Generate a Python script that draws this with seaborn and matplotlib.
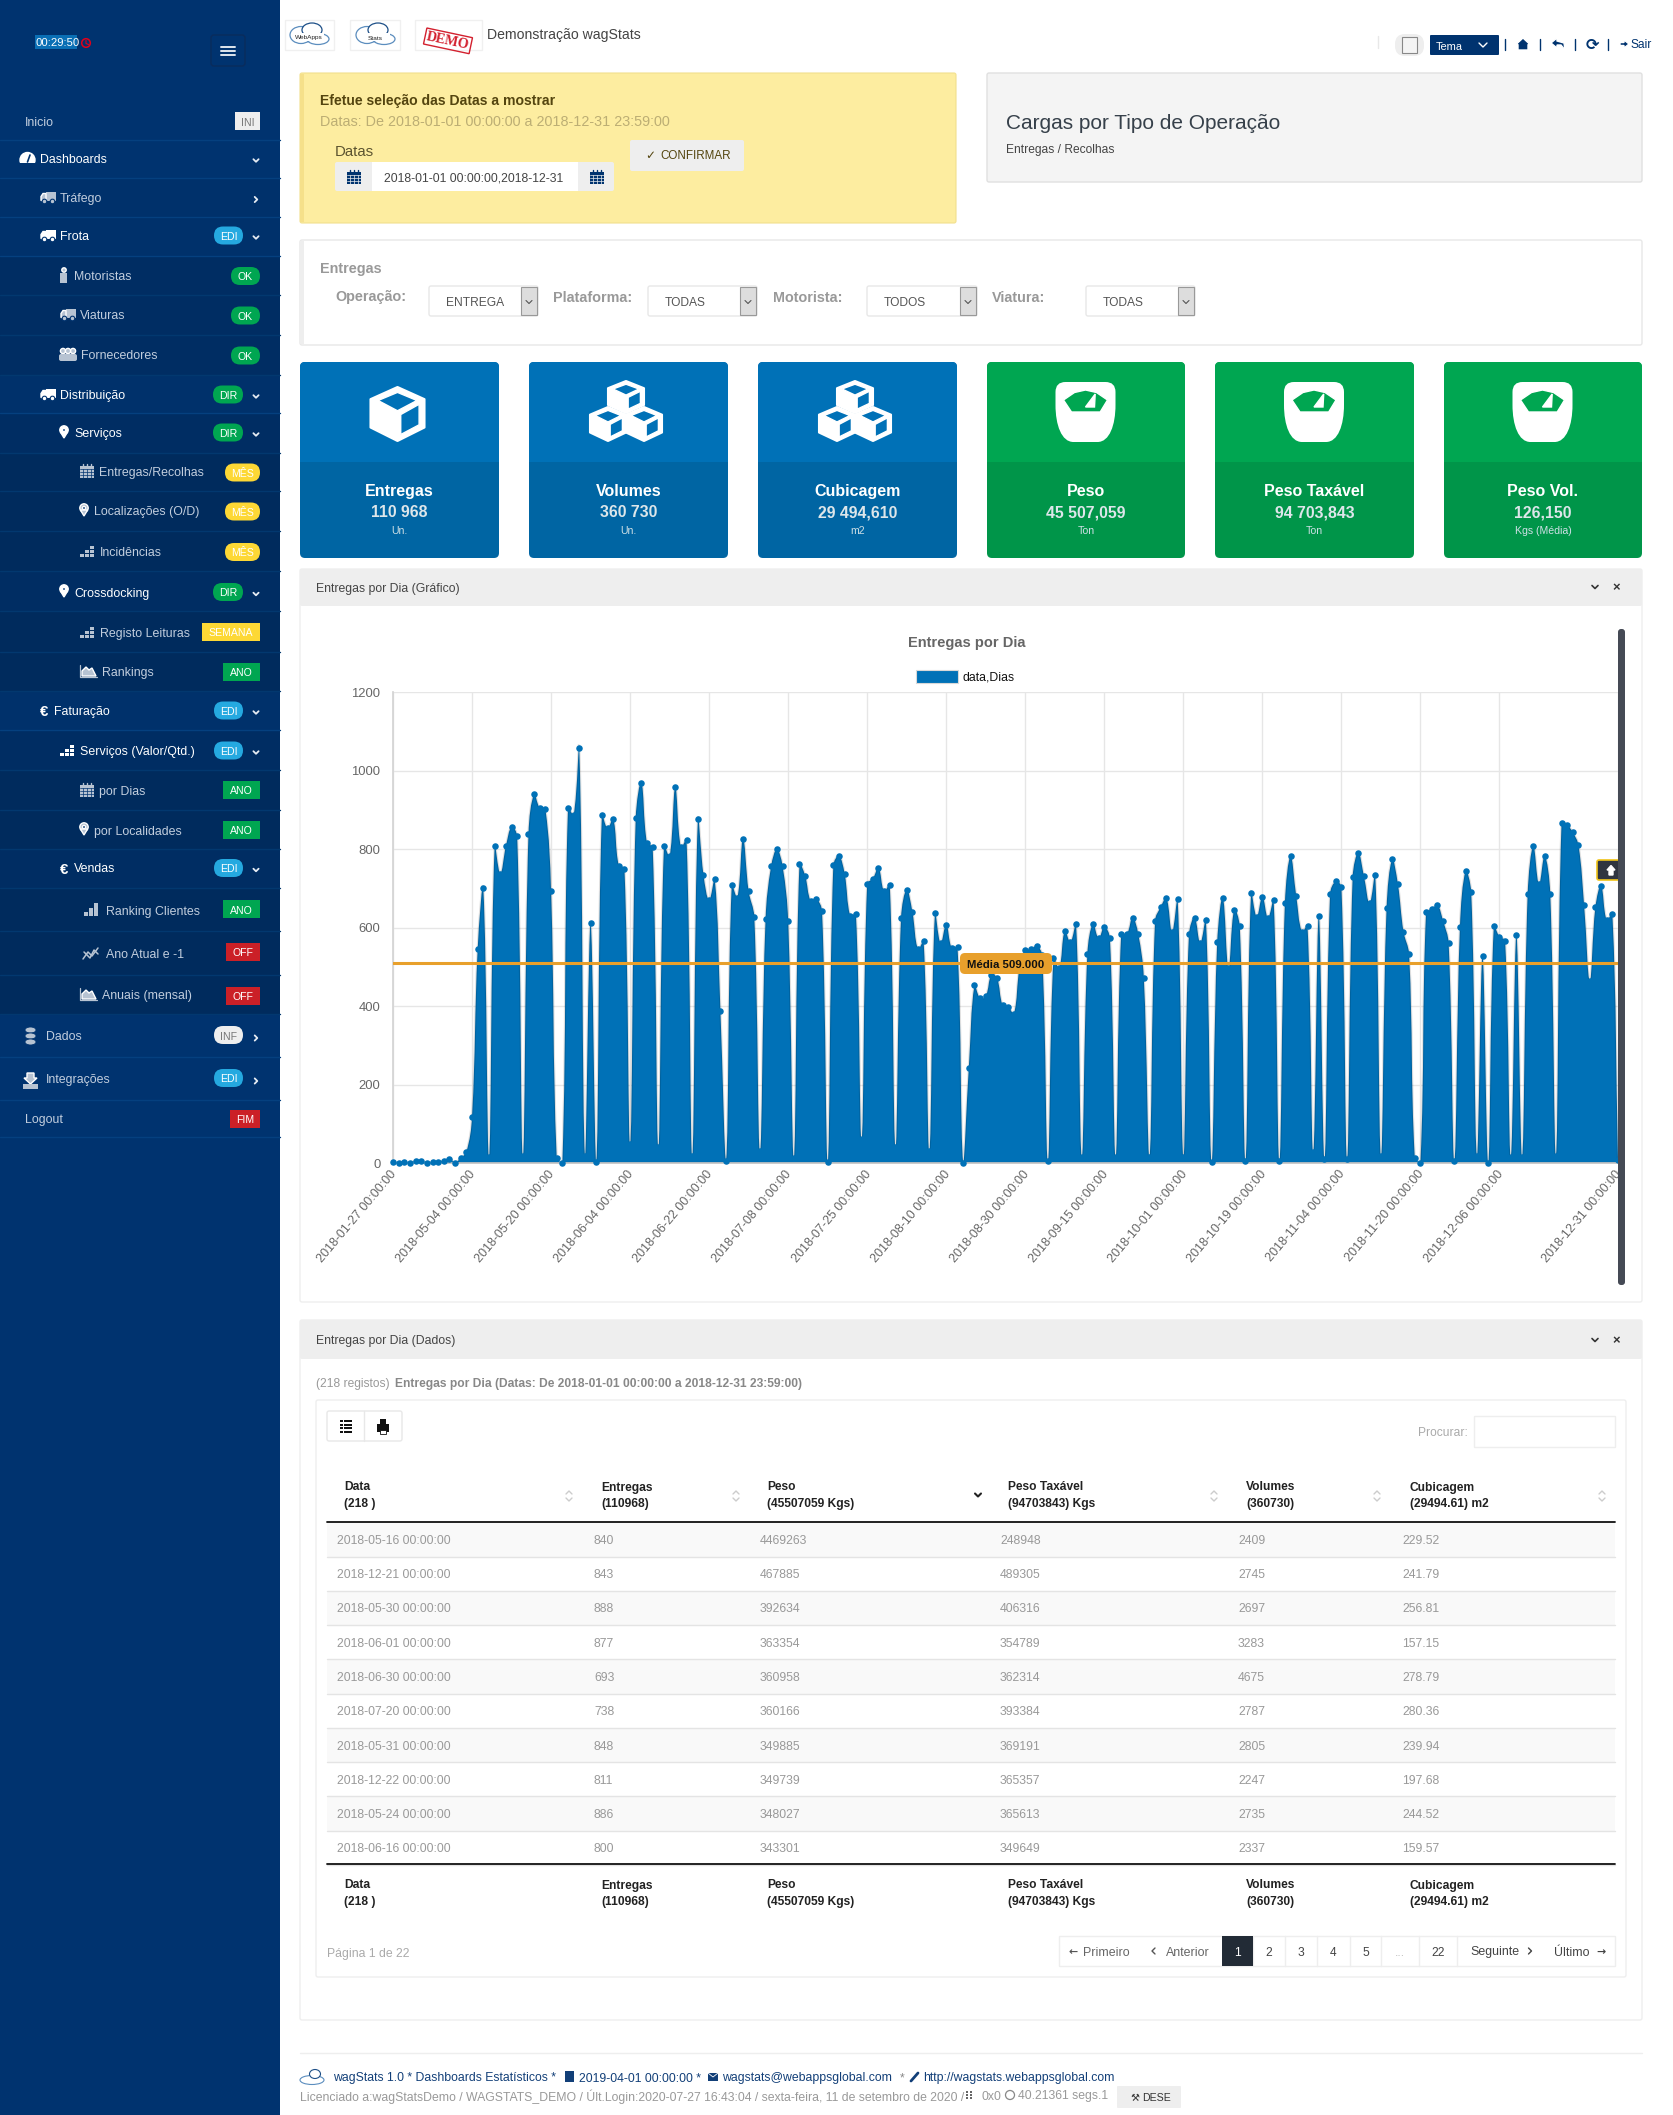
import numpy as np
import pandas as pd
import seaborn as sns
import matplotlib
matplotlib.use("Agg")
import matplotlib.pyplot as plt
from matplotlib.path import Path
from matplotlib.patches import PathPatch, FancyBboxPatch, Rectangle, Circle, Polygon, Ellipse
from matplotlib.transforms import ScaledTranslation

# chart values
entregas = [2, 1, 2, 1, 5, 6, 1, 2, 3, 6, 11, 1, 13, 28, 118, 546, 700, 15, 808, 738,
            808, 857, 833, 17, 840, 941, 905, 902, 693, 13, 0, 905, 888, 1057, 17, 611, 2, 888, 853, 878,
            758, 750, 48, 881, 970, 815, 806, 40, 808, 782, 958, 805, 824, 17, 876, 735, 670, 723, 388, 5,
            708, 677, 827, 693, 628, 30, 623, 758, 800, 758, 617, 12, 762, 733, 668, 673, 642, 2, 759, 783,
            738, 630, 635, 60, 712, 725, 753, 693, 710, 40, 626, 697, 641, 545, 565, 30, 638, 560, 608, 547,
            551, 0, 243, 453, 420, 425, 480, 472, 402, 397, 381, 500, 542, 545, 553, 530, 5, 523, 496, 592,
            563, 610, 16, 533, 610, 573, 602, 573, 16, 585, 584, 626, 585, 473, 16, 618, 653, 676, 589, 672,
            16, 583, 626, 561, 620, 3, 563, 677, 496, 646, 604, 5, 689, 628, 679, 625, 670, 5, 664, 782,
            681, 590, 604, 27, 631, 9, 686, 718, 703, 11, 730, 791, 731, 662, 735, 18, 649, 774, 712, 590,
            532, 14, 1, 639, 647, 658, 618, 560, 5, 602, 744, 691, 19, 528, 0, 604, 577, 567, 16, 581,
            16, 687, 808, 711, 783, 687, 19, 868, 862, 843, 810, 657, 465, 653, 707, 619, 636, 7]
media = 509
tick_pos = [0, 14, 28, 42, 56, 70, 84, 98, 112, 126, 140, 154, 168, 182, 196, 217]
tick_lab = ["2018-01-27 00:00:00", "2018-05-04 00:00:00", "2018-05-20 00:00:00", "2018-06-04 00:00:00",
            "2018-06-22 00:00:00", "2018-07-08 00:00:00", "2018-07-25 00:00:00", "2018-08-10 00:00:00",
            "2018-08-30 00:00:00", "2018-09-15 00:00:00", "2018-10-01 00:00:00", "2018-10-19 00:00:00",
            "2018-11-04 00:00:00", "2018-11-20 00:00:00", "2018-12-06 00:00:00", "2018-12-31 00:00:00"]

# table
col_titles = ["Data", "Entregas", "Peso", "Peso Taxável", "Volumes", "Cubicagem"]
col_totals = ["(218 )", "(110968)", "(45507059 Kgs)", "(94703843) Kgs", "(360730)", "(29494.61) m2"]
t_data = ["2018-05-16 00:00:00", "2018-12-21 00:00:00", "2018-05-30 00:00:00", "2018-06-01 00:00:00",
          "2018-06-30 00:00:00", "2018-07-20 00:00:00", "2018-05-31 00:00:00", "2018-12-22 00:00:00",
          "2018-05-24 00:00:00", "2018-06-16 00:00:00"]
t_entregas = [840, 843, 888, 877, 693, 738, 848, 811, 886, 800]
t_peso = [4469263, 467885, 392634, 363354, 360958, 360166, 349885, 349739, 348027, 343301]
t_taxavel = [248948, 489305, 406316, 354789, 362314, 393384, 369191, 365357, 365613, 349649]
t_volumes = [2409, 2745, 2697, 3283, 4675, 2787, 2805, 2247, 2735, 2337]
t_cubicagem = ["229.52", "241.79", "256.81", "157.15", "278.79", "280.36", "239.94", "197.68", "244.52", "159.57"]

# cards
kpi_titles = ["Entregas", "Volumes", "Cubicagem", "Peso", "Peso Taxável", "Peso Vol."]
kpi_values = ["110 968", "360 730", "29 494,610", "45 507,059", "94 703,843", "126,150"]
kpi_units = ["Un.", "Un.", "m2", "Ton", "Ton", "Kgs (Média)"]

# side menu
menu_labels = ["Inicio", "Dashboards", "Tráfego", "Frota", "Motoristas", "Viaturas", "Fornecedores",
               "Distribuição", "Serviços", "Entregas/Recolhas", "Localizações (O/D)", "Incidências",
               "Crossdocking", "Registo Leituras", "Rankings", "Faturação", "Serviços (Valor/Qtd.)",
               "por Dias", "por Localidades", "Vendas", "Ranking Clientes", "Ano Atual e -1",
               "Anuais (mensal)", "Dados", "Integrações", "Logout"]
menu_badges = ["INI", None, None, "EDI", "OK", "OK", "OK", "DIR", "DIR", "MÊS", "MÊS", "MÊS", "DIR",
               "SEMANA", "ANO", "EDI", "EDI", "ANO", "ANO", "EDI", "ANO", "OFF", "OFF", "INF", "EDI", "FIM"]

BLUE = "#0071b7"
NAVY = "#00336f"

sns.set_theme(style="white")
plt.rcParams["font.family"] = ["Liberation Sans", "DejaVu Sans"]

W, H = 1673, 2115
fig = plt.figure(figsize=(W / 100, H / 100), dpi=100, facecolor="white")
pg = fig.add_axes([0, 0, 1, 1], zorder=1)
pg.set_xlim(0, W)
pg.set_ylim(H, 0)
pg.axis("off")


def txt(x, y, s, px=12.4, c="#333333", w="normal", ha="left", a=None, **kw):
    a = a or pg
    return a.text(x, y, s, fontsize=px * 0.72, color=c, fontweight=w, ha=ha, va="center_baseline", **kw)


def box(x0, y0, x1, y1, fc, ec="none", lw=0.8, r=0, a=None, z=2):
    a = a or pg
    if r:
        p = FancyBboxPatch((x0 + r, y0 + r), x1 - x0 - 2 * r, y1 - y0 - 2 * r, boxstyle=f"round,pad={r},rounding_size={r}",
                           fc=fc, ec=ec, lw=lw, zorder=z)
    else:
        p = Rectangle((x0, y0), x1 - x0, y1 - y0, fc=fc, ec=ec, lw=lw, zorder=z)
    a.add_patch(p)


def chev(x, y, c, down=True, s=3.0, lw=1.3, a=None):
    a = a or pg
    if down:
        a.plot([x - s, x, x + s], [y - s / 2, y + s / 2, y - s / 2], color=c, lw=lw, zorder=5)
    else:
        a.plot([x - s / 2, x + s / 2, x - s / 2], [y - s, y, y + s], color=c, lw=lw, zorder=5)


def truck(x, y, c, bg):
    box(x + 5, y - 6, x + 15, y + 3, c, z=4)
    pg.add_patch(Polygon([(x, y + 3), (x, y - 1), (x + 2, y - 4), (x + 5, y - 4), (x + 5, y + 3)], fc=c, zorder=4))
    for cx in (x + 3.5, x + 11.5):
        pg.add_patch(Circle((cx, y + 4), 2.3, fc=c, ec=bg, lw=0.8, zorder=5))


def pin(x, y, c, bg):
    pg.add_patch(Circle((x, y - 2), 4.2, fc=c, zorder=4))
    pg.add_patch(Polygon([(x - 3.6, y), (x + 3.6, y), (x, y + 6)], fc=c, zorder=4))
    pg.add_patch(Circle((x, y - 2), 1.6, fc=bg, zorder=5))


def calendar(x, y, c, bg):
    box(x, y - 5, x + 14, y + 7, c, z=4)
    for v in (x + 3, x + 7, x + 11):
        pg.plot([v, v], [y - 7, y - 4], color=c, lw=1, zorder=5)
        pg.plot([v, v], [y - 2, y + 7], color=bg, lw=0.5, zorder=5)
    for h in (y - 2, y + 1, y + 4):
        pg.plot([x, x + 14], [h, h], color=bg, lw=0.5, zorder=5)


def blocks(x, y, c):
    for i, (cols, h) in enumerate([((2,), y - 5), ((1, 2), y - 1), ((0, 1, 2), y + 3)]):
        for k in cols:
            box(x + k * 5, h, x + k * 5 + 4, h + 3, c, z=4)


def areaicon(x, y, c):
    pg.plot([x, x, x + 17], [y - 6, y + 6, y + 6], color=c, lw=0.9, zorder=4)
    pg.add_patch(Polygon([(x + 2, y + 5), (x + 2, y), (x + 6, y - 4), (x + 9, y - 1), (x + 12, y - 3), (x + 16, y + 5)], fc=c, zorder=4))


def cloud(cx, cy, name):
    pg.add_patch(Ellipse((cx - 8, cy - 1), 22, 17, fc="none", ec="#5b8dbe", lw=0.9, zorder=3))
    pg.add_patch(Ellipse((cx + 9, cy + 3), 22, 11, fc="none", ec="#5b8dbe", lw=0.9, zorder=3))
    pg.add_patch(Ellipse((cx + 3, cy - 6), 20, 14, fc="white", ec="#1d4f87", lw=0.9, zorder=3))
    box(cx - 13, cy - 3, cx + 15, cy + 5, "white", z=3.5)
    txt(cx, cy + 1.5, name, 6.5, "#222222", ha="center", zorder=4)


# sidebar
box(0, 0, 280, H, NAVY, z=1)
box(35, 35, 77, 49, "#0a6fb5", z=2)
txt(36, 42.5, "00:29:50", 11.2, "white")
pg.add_patch(Circle((86, 43), 4.3, fc="none", ec="#e2001a", lw=1.1, zorder=3))
pg.plot([86, 86, 88.5], [40.5, 43.5, 44.5], color="#e2001a", lw=0.8, zorder=3)
box(211, 35, 245, 66, "none", ec="#0a2c5c", lw=1, r=3)
for yy in (47, 51, 55):
    pg.plot([221, 235], [yy, yy], color="#dfe6ee", lw=1.4, zorder=3)

menu_y = [121, 158.5, 197.5, 235.5, 275, 314.5, 354.5, 394.5, 432.5, 471.5, 510.5, 551, 592, 632, 671.6,
          710.5, 750.5, 790, 830, 868, 911, 953.5, 994.5, 1036, 1079, 1118.5]
menu_edge = [140, 178, 217, 256, 295, 335, 375, 413, 453, 491, 531, 571, 611, 652, 691, 730, 770, 810, 849,
             888, 931, 975, 1014, 1057, 1100, 1137]
menu_x = [25, 40, 60, 60, 74, 80, 81, 60, 74, 99, 94, 100, 74, 100, 102, 54, 80, 99, 94, 74, 106, 106, 102, 46, 46, 25]
menu_depth = [0, 0, 1, 1, 2, 2, 2, 1, 2, 3, 3, 3, 2, 3, 3, 1, 2, 3, 3, 2, 3, 3, 3, 0, 0, 0]
menu_white = [1, 3, 12, 7, 8, 15, 16, 19]
depth_bg = ["#00336f", "#00316b", "#002d63", "#002b5d"]
badge_col = {"INI": "#eeeeee", "EDI": "#25a9e0", "OK": "#00a651", "DIR": "#00a651", "MÊS": "#fdd835",
             "SEMANA": "#fdd835", "ANO": "#00a651", "OFF": "#cb2027", "INF": "#eeeeee", "FIM": "#cb2027"}
badge_w = {"EDI": 29, "DIR": 30, "OK": 29, "MÊS": 35, "INF": 29, "INI": 25, "SEMANA": 58, "ANO": 37, "OFF": 34, "FIM": 30}
badge_dy = {4: 1, 5: 1, 6: 1, 9: 1, 10: 1, 11: 1, 20: -2, 21: -1.5, 22: 1.5, 24: -1, 23: -1}
pill = ("EDI", "DIR", "OK", "MÊS", "INF")
has_chev = {1: True, 2: False, 3: True, 7: True, 8: True, 12: True, 15: True, 16: True, 19: True, 23: False, 24: False}

prev = 100
for i, lab in enumerate(menu_labels):
    y, edge = menu_y[i], menu_edge[i]
    bg = depth_bg[menu_depth[i]]
    box(0, prev, 280, edge, bg, z=1)
    pg.plot([0, 280], [edge, edge], color="#05407f" if menu_depth[i] < 2 else "#02386f", lw=1, zorder=2)
    prev = edge
    col = "#ffffff" if i in menu_white else "#c2cede"
    txt(menu_x[i], y, lab, 12.4, col)
    b = menu_badges[i]
    if b:
        has = i in has_chev and b in ("EDI", "DIR", "INF")
        right = 243 if has else 260
        left = right - badge_w[b]
        by = y + badge_dy.get(i, 0)
        tc = "#777777" if b in ("INI", "INF") else "white"
        r = 9 if b in pill else 0
        box(left, by - 9, right, by + 9, badge_col[b], r=r, z=3)
        txt((left + right) / 2, by + 0.5, b, 10.5, tc, ha="center", zorder=5)
    if i in has_chev:
        chev(256, y + 2, "#e6ecf3", down=has_chev[i], s=2.6, lw=1.3)

truck(41, 197.5, "#b7c3d2", NAVY)
truck(41, 235.5, "white", NAVY)
truck(41, 394.5, "white", NAVY)
truck(61, 314.5, "#b7c3d2", NAVY)
pg.add_patch(Circle((64, 270), 2.2, fc="#b7c3d2", zorder=4))
box(60.5, 273, 67.5, 283, "#b7c3d2", z=4)
for dx in (-5, 5, 0):
    pg.add_patch(Circle((68 + dx, 351), 2.6, fc="#b7c3d2", zorder=4))
    box(64 + dx, 354, 72 + dx, 361, "#b7c3d2", r=2, z=4)
# gauge
pg.add_patch(Circle((27.5, 160), 7.5, fc="white", zorder=4))
box(19, 163, 36, 169, NAVY, z=4)
pg.plot([27.5, 30], [162, 155], color=NAVY, lw=1.2, zorder=5)
pin(64, 432, "white", NAVY)
pin(64, 591, "white", NAVY)
pin(84, 510, "#b7c3d2", NAVY)
pin(84, 829, "#b7c3d2", NAVY)
calendar(80, 471, "#b7c3d2", NAVY)
calendar(80, 790, "#b7c3d2", NAVY)
blocks(80, 551, "#b7c3d2")
blocks(80, 632, "#b7c3d2")
blocks(60, 750, "white")
areaicon(80, 671, "#b7c3d2")
areaicon(80, 994, "#b7c3d2")
txt(40, 710, "€", 15, "white", "bold")
txt(60, 868, "€", 15, "white", "bold")
for k, h in enumerate((4, 8, 13)):
    box(84 + k * 5, 916 - h, 88 + k * 5, 916, "#b7c3d2", z=4)
pg.plot([83, 88, 92, 98], [959, 952, 956, 948], color="#b7c3d2", lw=1.1, zorder=4)
pg.plot([84, 90, 94, 98], [952, 958, 950, 954], color="#b7c3d2", lw=1.1, zorder=4)
for yy in (1030, 1036, 1042):
    pg.add_patch(Ellipse((30.5, yy), 11, 6, fc="#b7c3d2", ec=NAVY, lw=0.6, zorder=4))
pg.add_patch(Polygon([(27, 1073), (34, 1073), (34, 1078), (37, 1078), (30.5, 1084), (24, 1078), (27, 1078)], fc="#b7c3d2", zorder=4))
box(23, 1084, 38, 1089, "#b7c3d2", z=4)

# top bar
for x0, x1 in ((285, 334), (350, 400), (415, 482)):
    box(x0, 20, x1, 50, "white", ec="#f0f0f0", lw=1)
cloud(309, 36, "WebApps")
cloud(375, 36, "Stats")
txt(448, 35, "DEMO", 14, "#d3202e", "bold", ha="center", rotation=-12, family="Liberation Serif", zorder=4,
    bbox=dict(boxstyle="square,pad=0.12", fc="none", ec="#d3202e", lw=1))
txt(487.5, 34, "Demonstração wagStats", 14, "#444444")

box(1395, 34, 1424, 56, "#eeeeee", r=10)
box(1402, 37, 1417, 53, "#f4f4f4", ec="#888888", lw=0.8, z=3)
box(1430, 35, 1499, 55, NAVY, r=1)
txt(1436, 45.5, "Tema", 11, "white", zorder=4)
chev(1483, 45, "white", s=4, lw=1)
for xs in (1505, 1540, 1575, 1608):
    pg.plot([xs, xs], [39, 50], color=NAVY, lw=1, zorder=3)
pg.plot([1378, 1378], [36, 48], color="#e8e8e8", lw=1)
pg.add_patch(Polygon([(1516, 44.5), (1523, 38), (1530, 44.5), (1528, 44.5), (1528, 50), (1518, 50), (1518, 44.5)], fc=NAVY, zorder=3))
pg.add_patch(Polygon([(1551, 43), (1557, 38), (1557, 41), (1564, 43), (1565, 50), (1561, 45), (1557, 45), (1557, 48)], fc=NAVY, zorder=3))
txt(1592, 44, "⟳", 16, NAVY, "bold", ha="center", family="DejaVu Sans")
pg.add_patch(Polygon([(1620, 42.5), (1624, 42.5), (1624, 40), (1629, 44), (1624, 48), (1624, 45.5), (1620, 45.5)], fc=NAVY, zorder=3))
txt(1631, 44, "Sair", 12, NAVY)

# date panel
box(300, 73, 956, 223, "#fdeda0", ec="#f2e08e", lw=0.8, r=2)
box(300, 74, 304, 222, "#f5e08a", z=3)
txt(320, 100, "Efetue seleção das Datas a mostrar", 14, "#54450f", "bold")
txt(320, 121, "Datas: De 2018-01-01 00:00:00 a 2018-12-31 23:59:00", 14.45, "#bcae74")
txt(335, 151, "Datas", 15, "#5c5430")
box(335, 162, 614, 191, "#eeeeee", r=2)
box(372, 162, 578, 191, "white", z=3)
txt(384, 177, "2018-01-01 00:00:00,2018-12-31", 12.3, "#444444", zorder=4)
calendar(347, 177, NAVY, "#eeeeee")
calendar(590, 177, NAVY, "#eeeeee")
box(630, 140, 744, 171, "#eeeeee", r=2)
txt(645, 154.5, "✓", 12, "#54450f", family="DejaVu Sans")
txt(660, 154.5, "CONFIRMAR", 11.6, "#54450f")

box(987, 73, 1642, 182, "#f4f4f4", ec="#e0e0e0", lw=1, r=2)
txt(1006, 121.5, "Cargas por Tipo de Operação", 20.9, "#36404a")
txt(1006, 148, "Entregas / Recolhas", 12, "#444444")

# filters
box(300, 240, 1642, 345, "white", ec="#e8e8e8", lw=1, r=2)
box(300, 241, 304, 344, "#eeeeee", z=3)
txt(320, 268, "Entregas", 14.4, "#999999", "bold")
filt_lab = [("Operação:", 335), ("Plataforma:", 553), ("Motorista:", 773), ("Viatura:", 992)]
filt_sel = [("ENTREGA", 429, 538), ("TODAS", 648, 757), ("TODOS", 867, 977), ("TODAS", 1086, 1195)]
for (lab, lx), (val, x0, x1) in zip(filt_lab, filt_sel):
    txt(lx, 296, lab, 14.4, "#999999", "bold")
    box(x0, 286, x1, 316, "white", ec="#e8e8e8", lw=1, r=2)
    box(x1 - 17, 287, x1 - 1, 315, "#dddddd", ec="#999999", lw=0.8, z=3)
    chev(x1 - 9, 302, "#555555", s=3, lw=0.8)
    txt(x0 + 17, 302, val, 12, "#555555")

# cards
card_x = [(300, 499), (529, 728), (758, 957), (987, 1185), (1215, 1414), (1444, 1642)]
for i, (x0, x1) in enumerate(card_x):
    top_c, low = ("#0071b7", "#0065a3") if i < 3 else ("#00a651", "#009549")
    box(x0, 362, x1, 558, low, r=5)
    box(x0, 362, x1, 440, top_c, r=5)
    box(x0, 370, x1, 462, top_c, z=3)
    cx = (x0 + x1) / 2
    txt(cx, 490, kpi_titles[i], 16, "white", "bold", ha="center")
    txt(cx, 511, kpi_values[i], 15.9, "#dde6ea", "bold", ha="center")
    txt(cx, 530, kpi_units[i], 10.5, "#cfe0e6", ha="center")


def cube(cx, cy, sx, sy, bg):
    # hexagon body, then cut out the top and right faces
    pts = [(cx, cy - sy), (cx + sx, cy - sy * 0.55), (cx + sx, cy + sy * 0.5), (cx, cy + sy), (cx - sx, cy + sy * 0.5), (cx - sx, cy - sy * 0.55)]
    pg.add_patch(Polygon(pts, fc="white", ec="white", lw=1.5, joinstyle="round", zorder=4))
    pg.add_patch(Polygon([(cx, cy - sy * 0.8), (cx + sx * 0.72, cy - sy * 0.5), (cx, cy - sy * 0.12), (cx - sx * 0.72, cy - sy * 0.5)], fc=bg, zorder=5))
    pg.add_patch(Polygon([(cx + sx * 0.12, cy + sy * 0.02), (cx + sx * 0.8, cy - sy * 0.36), (cx + sx * 0.8, cy + sy * 0.4), (cx + sx * 0.12, cy + sy * 0.76)], fc=bg, zorder=5))


cube(397.5, 414, 27, 27, "#0071b7")
for cx in (626, 855):
    cube(cx, 397, 18, 16, "#0071b7")
    cube(cx - 18, 424, 18, 17, "#0071b7")
    cube(cx + 18, 424, 18, 17, "#0071b7")

for x0, x1 in card_x[3:]:
    cx = (x0 + x1) / 2 - 0.5
    verts = [(cx - 20, 382), (cx + 20, 382), (cx + 30, 382), (cx + 30, 392), (cx + 30, 405), (cx + 30, 425), (cx + 24, 442),
             (cx + 12, 442), (cx - 12, 442), (cx - 24, 442), (cx - 30, 425), (cx - 30, 405), (cx - 30, 392), (cx - 30, 382), (cx - 20, 382)]
    codes = [Path.MOVETO, Path.LINETO, Path.CURVE3, Path.CURVE3, Path.LINETO, Path.CURVE4, Path.CURVE4, Path.CURVE4,
             Path.LINETO, Path.CURVE4, Path.CURVE4, Path.CURVE4, Path.LINETO, Path.CURVE3, Path.CURVE3]
    pg.add_patch(PathPatch(Path(verts, codes), fc="white", ec="none", zorder=4))
    pg.add_patch(Polygon([(cx - 22, 400), (cx - 11, 392.5), (cx, 390), (cx + 11, 392.5), (cx + 22, 400), (cx + 14.7, 412), (cx - 14, 412)], fc="#00a651", zorder=5))
    pg.add_patch(Polygon([(cx, 407), (cx + 9, 407), (cx + 9.7, 394)], fc="white", zorder=6))

# chart panel
box(300, 569, 1642, 1302, "white", ec="#eeeeee", lw=1, r=2)
box(300, 569, 1642, 606, "#eeeeee", r=2, z=3)
txt(316, 587.5, "Entregas por Dia (Gráfico)", 12.2, "#444444", zorder=4)
chev(1595, 587, "#333333", s=3, lw=1.2)
txt(1616, 587, "×", 13, "#333333", "bold", ha="center", zorder=5)
txt(967, 642, "Entregas por Dia", 14.6, "#666666", "bold", ha="center")
box(916, 670, 958, 683, BLUE, ec="#d8d8d8", lw=0.8)
txt(963, 676, "data,Dias", 12.2, "#111111")

ax = fig.add_axes([393 / W, 1 - 1163 / H, (1618 - 393) / W, (1163 - 692.4) / H], zorder=2)
ax.patch.set_alpha(0)
df = pd.DataFrame({"idx": np.arange(len(entregas)), "entregas": entregas})


def smooth_path(xs, ys, sx, sy, t=0.4):
    # same rule as the chart's bezier tension, worked out in pixels
    px, py = np.asarray(xs) * sx, np.asarray(ys) * sy
    verts, codes = [(xs[0], 0), (xs[0], ys[0])], [Path.MOVETO, Path.LINETO]
    n = len(px)
    cp_out, cp_in = [None] * n, [None] * n
    for i in range(n):
        a, b = max(i - 1, 0), min(i + 1, n - 1)
        d0 = np.hypot(px[i] - px[a], py[i] - py[a])
        d1 = np.hypot(px[b] - px[i], py[b] - py[i])
        tot = d0 + d1 or 1
        dx, dy = px[b] - px[a], py[b] - py[a]
        cp_in[i] = (px[i] - t * d0 / tot * dx, max(py[i] - t * d0 / tot * dy, 0))
        cp_out[i] = (px[i] + t * d1 / tot * dx, max(py[i] + t * d1 / tot * dy, 0))
    for i in range(n - 1):
        verts += [(cp_out[i][0] / sx, cp_out[i][1] / sy), (cp_in[i + 1][0] / sx, cp_in[i + 1][1] / sy), (xs[i + 1], ys[i + 1])]
        codes += [Path.CURVE4] * 3
    verts += [(xs[-1], 0), (xs[0], 0)]
    codes += [Path.LINETO, Path.CLOSEPOLY]
    return Path(verts, codes)


ax.add_patch(PathPatch(smooth_path(df["idx"].tolist(), df["entregas"].tolist(), 5.645, 0.3922),
                       fc=BLUE, ec=(0, 0, 0, 0.12), lw=1.6, zorder=2))
sns.scatterplot(data=df, x="idx", y="entregas", ax=ax, color=BLUE, s=22, linewidth=0, clip_on=False, zorder=3, legend=False)
ax.axhline(media, color="#e8a02c", lw=2.2, zorder=4)
ax.set_xlim(0, 217)
ax.set_ylim(0, 1200)
ax.set_xticks(tick_pos)
ax.set_xticklabels(tick_lab, rotation=50, ha="right", rotation_mode="anchor", fontsize=9, color="#666666")
ax.set_yticks(range(0, 1201, 200))
ax.tick_params(axis="y", labelsize=9.4, labelcolor="#666666", length=5, color="#e6e6e6", pad=4)
ax.tick_params(axis="x", length=5, color="#e6e6e6", pad=1)
nudge = ScaledTranslation(-3 / 100, 3 / 100, fig.dpi_scale_trans)
for lb in ax.get_xticklabels():
    lb.set_transform(lb.get_transform() + nudge)
ax.grid(True, color="#e6e6e6", lw=1)
ax.set_axisbelow(True)
ax.set_xlabel("")
ax.set_ylabel("")
sns.despine(ax=ax, top=True, right=True)
ax.spines["left"].set_color("#d4d4d4")
ax.spines["bottom"].set_color("#c4c4c4")

# things that sit over the chart
top = fig.add_axes([0, 0, 1, 1], zorder=3)
top.set_xlim(0, W)
top.set_ylim(H, 0)
top.axis("off")
box(960, 953, 1052, 974, "#e8a02c", r=5, a=top)
txt(1006, 963.5, "Média 509.000", 11.4, "#111111", "bold", ha="center", a=top, zorder=5)
box(1597, 860, 1622, 880, "#2f3540", ec="#f0c419", lw=1.2, r=2, a=top, z=3)
box(1618, 629, 1625, 1285, "#454a55", r=3, a=top, z=4)
top.add_patch(Polygon([(1611, 865.5), (1615, 870), (1613, 870), (1613, 875), (1609, 875), (1609, 870), (1607, 870)], fc="white", zorder=5))

# data panel
box(300, 1320, 1642, 2020, "white", ec="#eeeeee", lw=1, r=2)
box(300, 1320, 1642, 1359, "#eeeeee", r=2, z=3)
txt(316, 1339.5, "Entregas por Dia (Dados)", 12.2, "#444444", zorder=4)
chev(1595, 1340, "#333333", s=3, lw=1.2)
txt(1616, 1340, "×", 13, "#333333", "bold", ha="center", zorder=5)
txt(316, 1383, "(218 registos)", 12, "#999999")
txt(395, 1383, "Entregas por Dia (Datas: De 2018-01-01 00:00:00 a 2018-12-31 23:59:00)", 12, "#888888", "bold")
box(316, 1400, 1626, 1977, "white", ec="#eeeeee", lw=1, r=2)
box(327, 1411, 402, 1441, "white", ec="#e8e8e8", lw=1, r=2)
pg.plot([364, 364], [1411, 1441], color="#e8e8e8", lw=1, zorder=3)
for yy in (1421, 1424.5, 1428, 1431.5):
    box(340, yy - 1, 343, yy + 1, "#111111", z=4)
    box(344, yy - 1, 352, yy + 1, "#111111", z=4)
box(377, 1424, 389, 1432, "#111111", z=4)
box(380, 1419, 386, 1424, "#111111", z=4)
box(380, 1430, 386, 1434, "white", ec="#111111", lw=0.6, z=5)
txt(1468, 1432, "Procurar:", 12, "#aaaaaa", ha="right")
box(1474, 1416, 1615, 1447, "white", ec="#eeeeee", lw=1)

head_x = [344, 601, 767, 1008, 1246, 1410]
cell_x = [337, 594, 760, 1000, 1238, 1402]
sort_x = [569, 736, 978, 1214, 1377, 1602]
for k in range(6):
    txt(head_x[k], 1486, col_titles[k], 12, "#222222", "bold")
    txt(head_x[k], 1503, col_totals[k], 12, "#222222", "bold")
    txt(head_x[k], 1884, col_titles[k], 12, "#222222", "bold")
    txt(head_x[k], 1901, col_totals[k], 12, "#222222", "bold")
    if k == 2:
        chev(sort_x[k], 1495, "#222222", s=3, lw=1.5)
    else:
        pg.plot([sort_x[k] - 3, sort_x[k], sort_x[k] + 3], [1494, 1491, 1494], color="#cccccc", lw=1, zorder=3)
        pg.plot([sort_x[k] - 3, sort_x[k], sort_x[k] + 3], [1498, 1501, 1498], color="#cccccc", lw=1, zorder=3)
row_h = 34.25
for r in range(10):
    yc = 1539.5 + r * row_h
    if r % 2 == 0:
        box(327, yc - row_h / 2, 1615, yc + row_h / 2, "#f9f9f9", z=2.1)
    pg.plot([327, 1615], [yc + row_h / 2, yc + row_h / 2], color="#e4e4e4", lw=1, zorder=2.2)
    cells = [t_data[r], t_entregas[r], t_peso[r], t_taxavel[r], t_volumes[r], t_cubicagem[r]]
    for k, v in enumerate(cells):
        txt(cell_x[k], yc, str(v), 12.2, "#999999", zorder=3)
pg.plot([327, 1615], [1522, 1522], color="#111111", lw=1.3, zorder=3)
pg.plot([327, 1615], [1864, 1864], color="#111111", lw=1.3, zorder=3)

txt(327, 1952, "Página 1 de 22", 12.2, "#aaaaaa")
box(1059, 1936, 1615, 1966, "white", ec="#eeeeee", lw=1)
for xs in (1253, 1285, 1317, 1350, 1381, 1419, 1457):
    pg.plot([xs, xs], [1936, 1966], color="#eeeeee", lw=1, zorder=3)
box(1222, 1936, 1253, 1966, "#222b36", z=3)
page_lab = [("1", 1237.5, "white"), ("2", 1269, "#444444"), ("3", 1301, "#444444"), ("4", 1333.5, "#444444"),
            ("5", 1365.5, "#444444"), ("...", 1400, "#bbbbbb"), ("22", 1438, "#444444")]
for lab, x, c in page_lab:
    txt(x, 1951, lab, 12, c, ha="center", zorder=5)
txt(1069, 1951, "←", 11, "#555555", "bold", family="DejaVu Sans")
txt(1083, 1951, "Primeiro", 12.4, "#666666")
pg.plot([1155, 1152, 1155], [1948, 1951, 1954], color="#555555", lw=1, zorder=7)
txt(1166, 1951, "Anterior", 12.4, "#666666")
txt(1470, 1951, "Seguinte", 12.4, "#444444")
chev(1530, 1951, "#444444", down=False, s=3, lw=1)
txt(1554, 1951, "Último", 12.4, "#444444")
txt(1596, 1951, "→", 11, "#444444", "bold", family="DejaVu Sans")

# footer
pg.plot([300, 1642], [2053, 2053], color="#eeeeee", lw=1)
pg.add_patch(Ellipse((312, 2080), 24, 9, fc="none", ec="#5b8dbe", lw=0.8, zorder=3))
pg.add_patch(Ellipse((315, 2074), 11, 9, fc="white", ec="#1d4f87", lw=0.8, zorder=3))
txt(333, 2077, "wagStats 1.0 * Dashboards Estatísticos *", 12.2, "#123f78")
box(565, 2071, 574, 2082, "#123f78", z=3)
txt(579, 2077, "2019-04-01 00:00:00 *", 12.2, "#123f78")
box(708, 2073, 718, 2081, "#123f78", z=3)
pg.plot([708, 713, 718], [2073, 2077, 2073], color="white", lw=0.6, zorder=4)
txt(722, 2077, "wagstats@webappsglobal.com", 12.2, "#123f78")
txt(900, 2077, "*", 12.2, "#888888")
pg.plot([911, 918], [2081, 2073], color="#123f78", lw=2, zorder=3)
txt(923, 2077, "http://wagstats.webappsglobal.com", 12.2, "#123f78")
txt(300, 2095, "Licenciado a:wagStatsDemo / WAGSTATS_DEMO / Últ.Login:2020-07-27 16:43:04 / sexta-feira, 11 de setembro de 2020 /", 12.2, "#999999")
for dx in (0, 4):
    for dy in (-3, 0, 3):
        box(966 + dx, 2094 + dy, 968.5 + dx, 2096 + dy, "#666666", z=3)
txt(982, 2095, "0x0", 12.2, "#999999")
pg.add_patch(Circle((1010, 2095), 4.5, fc="none", ec="#888888", lw=0.9, zorder=3))
txt(1018, 2095, "40.21361 segs.1", 12.2, "#999999")
box(1117, 2086, 1181, 2108, "#eeeeee", r=1)
txt(1130, 2097, "⚒", 10, "#333333", family="DejaVu Sans", zorder=4)
txt(1142, 2097, "DESE", 10.5, "#333333", zorder=4)

fig.savefig("out.png", dpi=100, facecolor="white")
